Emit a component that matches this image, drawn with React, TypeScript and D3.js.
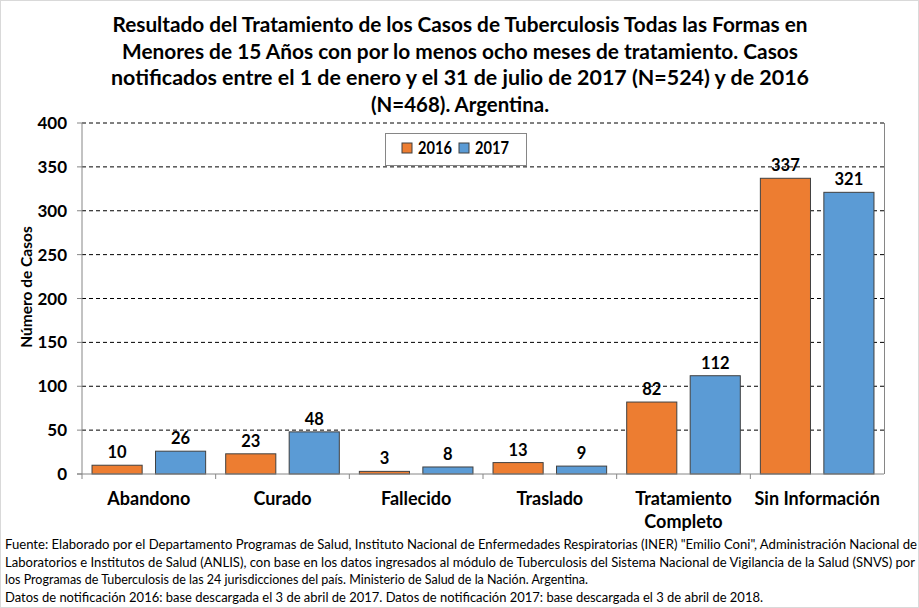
import React from "react";
import * as d3 from "d3";

const categories = ["Abandono", "Curado", "Fallecido", "Traslado", "Tratamiento Completo", "Sin Información"];
const values2016 = [10, 23, 3, 13, 82, 337];
const values2017 = [26, 48, 8, 9, 112, 321];
const seriesNames = ["2016", "2017"];
const yTicks = [0, 50, 100, 150, 200, 250, 300, 350, 400];
const titleLines = [
  "Resultado del Tratamiento de los Casos de Tuberculosis Todas las Formas en",
  "Menores de 15 Años con por lo menos ocho meses de tratamiento. Casos",
  "notificados entre el 1 de enero y el 31 de julio de 2017 (N=524) y de 2016",
  "(N=468). Argentina.",
];
const footLines = [
  "Fuente: Elaborado por el Departamento Programas de Salud, Instituto Nacional de Enfermedades Respiratorias (INER) \"Emilio Coni\", Administración Nacional de",
  "Laboratorios e Institutos de Salud (ANLIS), con base en los datos ingresados al módulo de Tuberculosis del Sistema Nacional de Vigilancia de la Salud (SNVS) por",
  "los Programas de Tuberculosis de las 24 jurisdicciones del país. Ministerio de Salud de la Nación. Argentina.",
  "Datos de notificación 2016: base descargada el 3 de abril de 2017. Datos de notificación 2017: base descargada el 3 de abril de 2018.",
];
const footWidths = [912, 910, 583, 758];
const titleWidths = [695, 676, 698, 178];

const colors = ["#ED7D31", "#5B9BD5"];
const FONT = "Lato, 'Open Sans', sans-serif";

export default function App() {
  const W = 919, H = 608;
  const left = 82, right = 884, top = 123, bottom = 474;
  const x0 = d3.scaleBand<string>().domain(categories).range([left, right]).paddingInner(0).paddingOuter(0);
  const y = d3.scaleLinear().domain([0, 400]).range([bottom, top]);
  const bw = x0.bandwidth();
  const barW = bw * 0.375;
  const gap = bw * 0.1;
  const offsets = [bw * 0.075, bw * 0.075 + barW + gap];
  const series = [values2016, values2017];

  return (
    <svg width={W} height={H} style={{ position: "absolute", left: 0, top: 0, background: "#fff" }} fontFamily={FONT}>
      <rect x={0.5} y={0.5} width={W - 1} height={H - 1} fill="#fff" stroke="#d9d9d9" />
      {titleLines.map((t, i) => (
        <text key={i} x={460} y={32 + i * 26.5} textAnchor="middle" fontSize={20} fontWeight="bold" fill="#000"
          textLength={titleWidths[i]} lengthAdjust="spacingAndGlyphs">{t}</text>
      ))}
      {/* gridlines */}
      {yTicks.filter((t) => t > 0).map((t) => (
        <line key={t} x1={left} x2={right} y1={y(t)} y2={y(t)} stroke="#000" strokeDasharray="4,3" strokeWidth={1} />
      ))}
      {/* right border */}
      <line x1={right + 0.5} x2={right + 0.5} y1={top} y2={bottom} stroke="#868686" />
      {/* y axis */}
      <line x1={left} x2={left} y1={top} y2={bottom} stroke="#868686" />
      {yTicks.map((t) => (
        <g key={t}>
          <line x1={left - 5} x2={left} y1={y(t)} y2={y(t)} stroke="#868686" />
          <text x={67} y={y(t)} dy="0.36em" textAnchor="end" fontSize={17} fontWeight="bold">{t}</text>
        </g>
      ))}
      <text transform={`translate(32,287) rotate(-90)`} textAnchor="middle" fontSize={15.5} fontWeight="bold">Número de Casos</text>
      {/* bars */}
      {series.map((vals, si) =>
        categories.map((c, ci) => {
          const bx = (x0(c) as number) + offsets[si];
          const by = y(vals[ci]);
          return (
            <g key={`${si}-${ci}`}>
              <rect x={bx} y={by} width={barW} height={bottom - by} fill={colors[si]} stroke="#404040" strokeWidth={1} />
              <text x={bx + barW / 2} y={by - 7} textAnchor="middle" fontSize={16.5} fontWeight="bold">{vals[ci]}</text>
            </g>
          );
        })
      )}
      {/* x axis */}
      <line x1={left - 5} x2={right} y1={bottom} y2={bottom} stroke="#868686" />
      {categories.map((c, i) => (
        <line key={c} x1={left + i * bw} x2={left + i * bw} y1={bottom} y2={bottom + 5} stroke="#868686" />
      ))}
      {categories.map((c) => {
        const cx = (x0(c) as number) + bw / 2;
        const words = c === "Tratamiento Completo" ? ["Tratamiento", "Completo"] : [c];
        return (
          <text key={c} x={cx} y={505} textAnchor="middle" fontSize={18} fontWeight="bold">
            {words.map((w, i) => (
              <tspan key={i} x={cx} dy={i === 0 ? 0 : 23}>{w}</tspan>
            ))}
          </text>
        );
      })}
      {/* legend */}
      <rect x={385.5} y={133.5} width={141} height={32} fill="#fff" stroke="#868686" />
      {seriesNames.map((s, i) => (
        <g key={s} transform={`translate(${402 + i * 57},143)`}>
          <rect x={0} y={0} width={10} height={10} fill={colors[i]} stroke="#404040" />
          <text x={16} y={5} dy="0.38em" fontSize={16.5} fontWeight="bold" textLength={34} lengthAdjust="spacingAndGlyphs">{s}</text>
        </g>
      ))}
      {/* footnote */}
      {footLines.map((t, i) => (
        <text key={i} x={5} y={549 + i * 17.5} fontSize={12.5} fill="#000" textLength={footWidths[i]} lengthAdjust="spacingAndGlyphs">{t}</text>
      ))}
    </svg>
  );
}
